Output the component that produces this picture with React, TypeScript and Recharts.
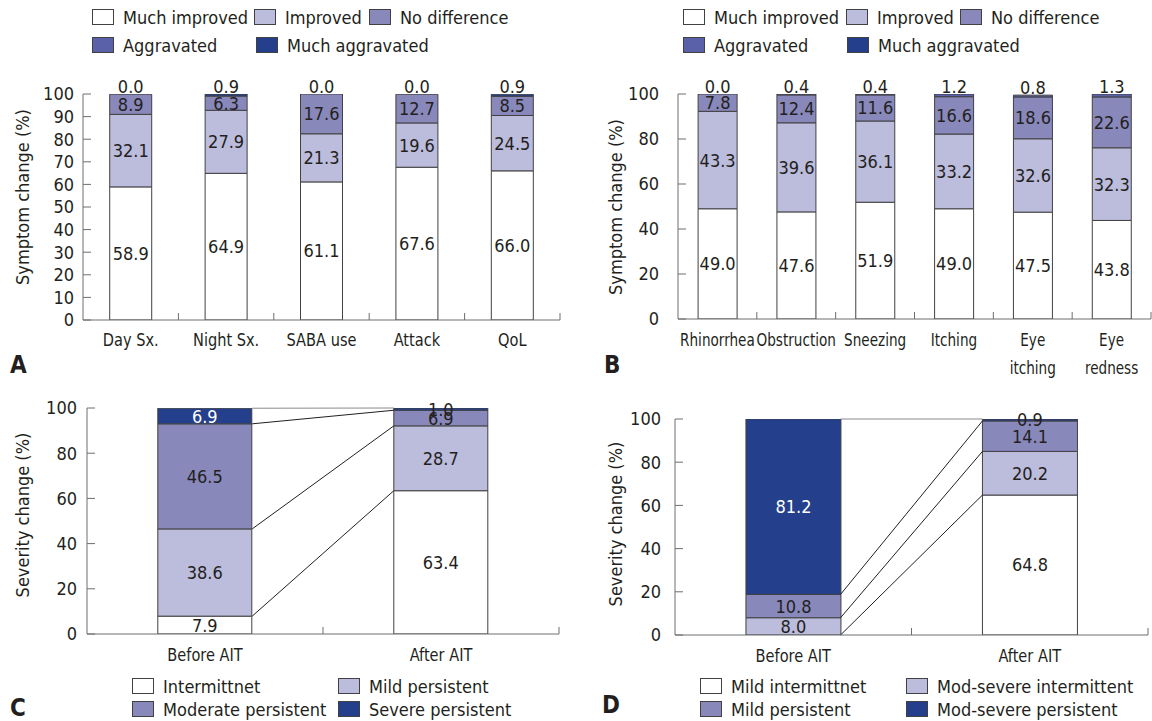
import { Bar, BarChart, LabelList, ReferenceLine, XAxis, YAxis } from 'recharts';

// panel A: asthma symptoms
const aCategories = ['Day Sx.', 'Night Sx.', 'SABA use', 'Attack', 'QoL'];
const aMuchImproved = [58.9, 64.9, 61.1, 67.6, 66.0];
const aImproved = [32.1, 27.9, 21.3, 19.6, 24.5];
const aNoDifference = [8.9, 6.3, 17.6, 12.7, 8.5];
const aAggravated = [0, 0, 0, 0, 0];
const aMuchAggravated = [0.0, 0.9, 0.0, 0.0, 0.9];

// panel B: rhinitis symptoms
const bCategories = ['Rhinorrhea', 'Obstruction', 'Sneezing', 'Itching', 'Eye\nitching', 'Eye\nredness'];
const bMuchImproved = [49.0, 47.6, 51.9, 49.0, 47.5, 43.8];
const bImproved = [43.3, 39.6, 36.1, 33.2, 32.6, 32.3];
const bNoDifference = [7.8, 12.4, 11.6, 16.6, 18.6, 22.6];
const bAggravated = [0.0, 0.4, 0.4, 1.2, 0.8, 1.3];
const bMuchAggravated = [0, 0, 0, 0, 0, 0];

// panel C: asthma severity
const cCategories = ['Before AIT', 'After AIT'];
const cIntermittent = [7.9, 63.4];
const cMildPersistent = [38.6, 28.7];
const cModeratePersistent = [46.5, 6.9];
const cSeverePersistent = [6.9, 1.0];

// panel D: rhinitis severity
const dCategories = ['Before AIT', 'After AIT'];
const dMildIntermittent = [0, 64.8];
const dModSevereIntermittent = [8.0, 20.2];
const dMildPersistent = [10.8, 14.1];
const dModSeverePersistent = [81.2, 0.9];

const ticksBy10 = [0, 10, 20, 30, 40, 50, 60, 70, 80, 90, 100];
const ticksBy20 = [0, 20, 40, 60, 80, 100];

const FONT = "'Liberation Sans Narrow', 'DejaVu Sans Condensed', 'Arial Narrow', sans-serif";
const FS = 18;
const INK = '#231f20';
const AXIS = '#6d6e71';
const EDGE = '#414042';
const WHITE = '#ffffff';
const LIGHT = '#bcbcdc';
const MID = '#8888bb';
const STRONG = '#5b61a8';
const NAVY = '#243f8c';

type Series = { key: string; name: string; values: number[]; color: string; label: boolean; lightText?: boolean };

function rowsFor(categories: string[], series: Series[]) {
  return categories.map((name, i) => {
    const row: Record<string, any> = { name };
    series.forEach((s) => {
      row[s.key] = s.values[i];
    });
    return row;
  });
}

function boxOf(props: any) {
  const box = props.viewBox ?? props;
  return { x: Number(box.x), y: Number(box.y), w: Number(box.width), h: Number(box.height) };
}

// value centred in its own segment
function segmentLabel(lightText?: boolean) {
  return (props: any) => {
    const { x, y, w, h } = boxOf(props);
    const value = Number(props.value);
    if (!value) return null;
    const fill = lightText && Math.abs(h) > 12 ? '#ffffff' : INK;
    return (
      <text x={x + w / 2} y={y + h / 2} dy="0.36em" textAnchor="middle" fill={fill} fontSize={FS} fontFamily={FONT}>
        {value.toFixed(1)}
      </text>
    );
  };
}

// value of the thin top segment, written just above the stack
function topLabel(values: number[]) {
  return (props: any) => {
    const { x, y, w, h } = boxOf(props);
    const own = Number(props.value);
    const top = values[props.index];
    if (top == null || !own) return null;
    const perUnit = Math.abs(h) / own;
    return (
      <text x={x + w / 2} y={y - top * perUnit - 1} textAnchor="middle" fill={INK} fontSize={FS} fontFamily={FONT}>
        {top.toFixed(1)}
      </text>
    );
  };
}

function yTick(gap: number) {
  return (props: any) => {
    const { x, y, payload } = props;
    return (
      <g>
        <line x1={x + gap} x2={x + gap + 8} y1={y} y2={y} stroke={AXIS} />
        <text x={x} y={y} dy="0.36em" textAnchor="end" fill={INK} fontSize={FS} fontFamily={FONT}>
          {payload.value}
        </text>
      </g>
    );
  };
}

function xTick(gap: number, squeeze: number) {
  return (props: any) => {
    const { x, y, payload, width, visibleTicksCount } = props;
    const half = Number(width) / Number(visibleTicksCount) / 2;
    const axisY = y - gap;
    const lines = String(payload.value).split('\n');
    return (
      <g>
        {Number.isFinite(half) && (
          <line x1={x + half} x2={x + half} y1={axisY} y2={axisY - 7} stroke={AXIS} />
        )}
        <text
          transform={`translate(${x} ${y}) scale(${squeeze} 1)`}
          textAnchor="middle"
          fill={INK}
          fontSize={FS}
          fontFamily={FONT}
        >
          {lines.map((t, i) => (
            <tspan key={i} x={0} dy={i === 0 ? '0.75em' : 29}>
              {t}
            </tspan>
          ))}
        </text>
      </g>
    );
  };
}

type PanelProps = {
  left: number;
  top: number;
  width: number;
  height: number;
  margin: { top: number; right: number; bottom: number; left: number };
  yWidth: number;
  yGap: number;
  xGap: number;
  squeeze: number;
  yTicks: number[];
  categories: string[];
  series: Series[];
  gap: number;
  topLabels?: { on: string; values: number[] };
  connectors?: boolean;
  title: string;
  titleAt: [number, number];
  legendAt: [number, number][];
  letter: string;
  letterAt: [number, number];
};

function StackPanel(p: PanelProps) {
  const data = rowsFor(p.categories, p.series);
  const n = p.categories.length;
  const half = (1 - 2 * p.gap) / 2;
  // connector ends at the inner bar edges, as a fraction of the category axis
  const fromX = (0.5 + half) / n;
  const toX = (1.5 - half) / n;
  const boundaries = p.connectors
    ? p.series.map((_, k) => {
        const upto = p.series.slice(0, k + 1);
        return [0, 1].map((i) => upto.reduce((acc, s) => acc + s.values[i], 0));
      })
    : [];

  return (
    <>
      <div style={{ position: 'absolute', left: p.left, top: p.top }}>
        <BarChart
          width={p.width}
          height={p.height}
          data={data}
          margin={p.margin}
          barCategoryGap={`${p.gap * 100}%`}
        >
          <XAxis
            xAxisId="cat"
            dataKey="name"
            height={1}
            stroke={AXIS}
            tickLine={false}
            tickSize={0}
            tickMargin={p.xGap}
            interval={0}
            tick={xTick(p.xGap, p.squeeze)}
          />
          <XAxis xAxisId="frac" type="number" domain={[0, 1]} allowDataOverflow hide />
          <YAxis
            width={p.yWidth}
            domain={[0, 100]}
            ticks={p.yTicks}
            allowDataOverflow
            interval={0}
            tickLine={false}
            tickSize={0}
            tickMargin={p.yGap}
            stroke={AXIS}
            tick={yTick(p.yGap)}
          />
          {p.series.map((s) => (
            <Bar
              key={s.key}
              xAxisId="cat"
              dataKey={s.key}
              name={s.name}
              stackId="s"
              fill={s.color}
              stroke={EDGE}
              strokeWidth={1}
              isAnimationActive={false}
            >
              {s.label && <LabelList dataKey={s.key} content={segmentLabel(s.lightText)} />}
              {p.topLabels && p.topLabels.on === s.key && (
                <LabelList dataKey={s.key} content={topLabel(p.topLabels.values)} />
              )}
            </Bar>
          ))}
          {boundaries.map(([before, after], k) => (
            <ReferenceLine
              key={k}
              xAxisId="frac"
              ifOverflow="visible"
              segment={[
                { x: fromX, y: before },
                { x: toX, y: after },
              ]}
              stroke={k === boundaries.length - 1 ? '#8a8a8c' : '#231f20'}
              strokeWidth={1}
            />
          ))}
        </BarChart>
      </div>
      <div
        style={{
          position: 'absolute',
          left: p.titleAt[0],
          top: p.titleAt[1],
          transform: 'translate(-50%, -50%) rotate(-90deg)',
          whiteSpace: 'nowrap',
          fontFamily: FONT,
          fontSize: FS,
          color: INK,
        }}
      >
        {p.title}
      </div>
      {p.series.map((s, i) => (
        <div
          key={s.key}
          style={{
            position: 'absolute',
            left: p.legendAt[i][0],
            top: p.legendAt[i][1] - 12,
            height: 24,
            display: 'flex',
            alignItems: 'center',
            whiteSpace: 'nowrap',
            fontFamily: FONT,
            fontSize: FS,
            color: INK,
          }}
        >
          <span
            style={{
              display: 'inline-block',
              width: 20,
              height: 14,
              background: s.color,
              border: `1px solid ${EDGE}`,
              marginRight: 9,
            }}
          />
          {s.name}
        </div>
      ))}
      <div
        style={{
          position: 'absolute',
          left: p.letterAt[0],
          top: p.letterAt[1] - 14,
          fontFamily: FONT,
          fontWeight: 'bold',
          fontSize: 24,
          lineHeight: '28px',
          color: INK,
        }}
      >
        {p.letter}
      </div>
    </>
  );
}

export default function App() {
  const symptomSeries = (vals: number[][], labels: boolean[]): Series[] => [
    { key: 'muchImproved', name: 'Much improved', values: vals[0], color: WHITE, label: labels[0] },
    { key: 'improved', name: 'Improved', values: vals[1], color: LIGHT, label: labels[1] },
    { key: 'noDifference', name: 'No difference', values: vals[2], color: MID, label: labels[2] },
    { key: 'aggravated', name: 'Aggravated', values: vals[3], color: STRONG, label: labels[3] },
    { key: 'muchAggravated', name: 'Much aggravated', values: vals[4], color: NAVY, label: labels[4] },
  ];

  const aSeries = symptomSeries(
    [aMuchImproved, aImproved, aNoDifference, aAggravated, aMuchAggravated],
    [true, true, true, false, false],
  );
  const bSeries = symptomSeries(
    [bMuchImproved, bImproved, bNoDifference, bAggravated, bMuchAggravated],
    [true, true, true, false, false],
  );
  const cSeries: Series[] = [
    { key: 'intermittent', name: 'Intermittnet', values: cIntermittent, color: WHITE, label: true },
    { key: 'mildPersistent', name: 'Mild persistent', values: cMildPersistent, color: LIGHT, label: true },
    { key: 'moderatePersistent', name: 'Moderate persistent', values: cModeratePersistent, color: MID, label: true },
    { key: 'severePersistent', name: 'Severe persistent', values: cSeverePersistent, color: NAVY, label: true, lightText: true },
  ];
  const dSeries: Series[] = [
    { key: 'mildIntermittent', name: 'Mild intermittnet', values: dMildIntermittent, color: WHITE, label: true },
    { key: 'modSevereIntermittent', name: 'Mod-severe intermittent', values: dModSevereIntermittent, color: LIGHT, label: true },
    { key: 'mildPersistent', name: 'Mild persistent', values: dMildPersistent, color: MID, label: true },
    { key: 'modSeverePersistent', name: 'Mod-severe persistent', values: dModSeverePersistent, color: NAVY, label: true, lightText: true },
  ];

  return (
    <div style={{ position: 'absolute', left: 0, top: 0, width: 1152, height: 721, background: '#fff', overflow: 'hidden' }}>
      <StackPanel
        left={0}
        top={0}
        width={576}
        height={380}
        margin={{ top: 94, right: 16, bottom: 59, left: 0 }}
        yWidth={83}
        yGap={9}
        xGap={12}
        squeeze={0.9}
        yTicks={ticksBy10}
        categories={aCategories}
        series={aSeries}
        gap={0.28}
        topLabels={{ on: 'noDifference', values: aMuchAggravated }}
        title="Symptom change (%)"
        titleAt={[22, 197]}
        legendAt={[[92, 17], [254, 17], [369, 17], [92, 45], [256, 45]]}
        letter="A"
        letterAt={[10, 365]}
      />
      <StackPanel
        left={576}
        top={0}
        width={576}
        height={380}
        margin={{ top: 94, right: 1, bottom: 60, left: 0 }}
        yWidth={102}
        yGap={19}
        xGap={13}
        squeeze={0.84}
        yTicks={ticksBy20}
        categories={bCategories}
        series={bSeries}
        gap={0.255}
        topLabels={{ on: 'noDifference', values: bAggravated }}
        title="Symptom change (%)"
        titleAt={[615, 207]}
        legendAt={[[683, 17], [846, 17], [960, 17], [683, 45], [847, 45]]}
        letter="B"
        letterAt={[604, 365]}
      />
      <StackPanel
        left={0}
        top={380}
        width={576}
        height={341}
        margin={{ top: 28, right: 17, bottom: 86, left: 0 }}
        yWidth={87}
        yGap={10}
        xGap={13}
        squeeze={0.9}
        yTicks={ticksBy20}
        categories={cCategories}
        series={cSeries}
        gap={0.3}
        connectors
        title="Severity change (%)"
        titleAt={[22, 515]}
        legendAt={[[132, 686], [338, 686], [132, 709], [338, 709]]}
        letter="C"
        letterAt={[10, 708]}
      />
      <StackPanel
        left={576}
        top={380}
        width={576}
        height={341}
        margin={{ top: 39, right: 4, bottom: 85, left: 0 }}
        yWidth={99}
        yGap={14}
        xGap={13}
        squeeze={0.9}
        yTicks={ticksBy20}
        categories={dCategories}
        series={dSeries}
        gap={0.3}
        connectors
        title="Severity change (%)"
        titleAt={[615, 524]}
        legendAt={[[700, 686], [906, 686], [700, 709], [906, 709]]}
        letter="D"
        letterAt={[602, 705]}
      />
    </div>
  );
}
